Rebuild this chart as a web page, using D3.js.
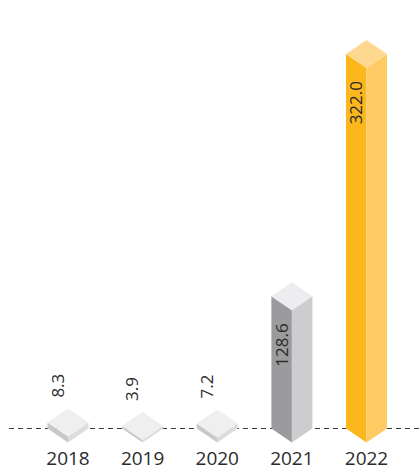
<!DOCTYPE html>
<html><head><meta charset="utf-8">
<script src="https://cdn.jsdelivr.net/npm/d3@7"></script>
<style>body{margin:0;background:#fff}svg{display:block}</style>
</head><body>
<script>
const years = ["2018","2019","2020","2021","2022"];
const values = [8.3, 3.9, 7.2, 128.6, 322.0];
const labels = ["8.3","3.9","7.2","128.6","322.0"];
const highlightYear = "2022";

const W = 420, H = 470;
const baseY = 428.5, halfW = 20.5, dy = 14;
const svg = d3.select("body").append("svg").attr("width", W).attr("height", H);

const x = d3.scalePoint().domain(years).range([68, 366.5]);
const h = d3.scalePow().exponent(1.135).domain([0, 322]).range([0, 374.5]);

svg.append("line").attr("x1", 9).attr("x2", W).attr("y1", baseY).attr("y2", baseY)
  .attr("stroke", "#3a3a3a").attr("stroke-width", 1.2).attr("stroke-dasharray", "5,4");

const data = years.map((y, i) => ({year: y, value: values[i], label: labels[i]}));
function pal(d){
  if (d.year === highlightYear) return {l:"#FBB71B", r:"#FDCA64", t:"#FED88F"};
  if (d.value > 50) return {l:"#9B9B9D", r:"#CDCDCF", t:"#EDEDEF"};
  return {l:"#C8C8C9", r:"#DCDCDD", t:"#EFEFF0"};
}
const g = svg.selectAll("g.bar").data(data).join("g").attr("class","bar");
g.each(function(d){
  const cx = x(d.year), hh = h(d.value), c = pal(d), s = d3.select(this);
  const top = baseY - hh;
  s.append("polygon").attr("fill", c.l).attr("points",
    [[cx-halfW, baseY],[cx-halfW, top],[cx, top+dy],[cx, baseY+dy]].join(" "));
  s.append("polygon").attr("fill", c.r).attr("points",
    [[cx, baseY+dy],[cx, top+dy],[cx+halfW, top],[cx+halfW, baseY]].join(" "));
  s.append("polygon").attr("fill", c.t).attr("points",
    [[cx-halfW, top],[cx, top-dy],[cx+halfW, top],[cx, top+dy]].join(" "));
  const inside = d.value > 50;
  const lx = cx - 10.5, ly = inside ? top + 27 : top - 25;
  s.append("text").attr("transform", `translate(${lx},${ly}) rotate(-90)`)
    .attr("text-anchor", inside ? "end" : "start").attr("dy", "0.36em")
    .attr("font-family", "'Open Sans', sans-serif").attr("font-size", 17)
    .attr("fill", "#2b2b2b").text(d.label);
  s.append("text").attr("x", cx).attr("y", 465).attr("text-anchor", "middle")
    .attr("font-family", "'Open Sans', sans-serif").attr("font-size", 19)
    .attr("fill", "#2b2b2b").text(d.year);
});
</script>
</body></html>
